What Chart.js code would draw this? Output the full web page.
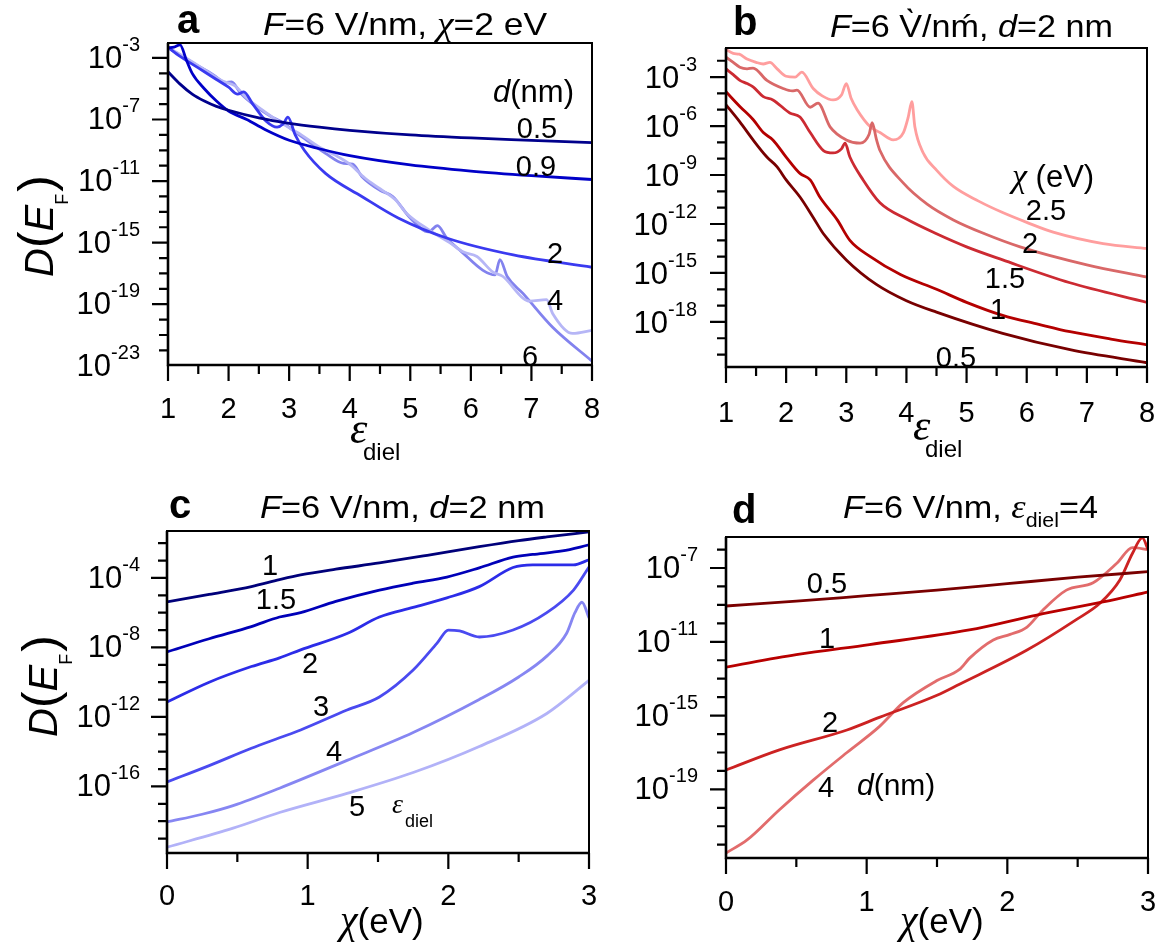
<!DOCTYPE html>
<html>
<head>
<meta charset="utf-8">
<script src="https://cdn.jsdelivr.net/npm/chart.js@4.4.1/dist/chart.umd.min.js"></script>
<style>
  html, body { margin: 0; padding: 0; background: #fff; }
  #wrap { position: relative; width: 1155px; height: 947px; overflow: hidden; }
  canvas { position: absolute; }
</style>
</head>
<body>
<div id="wrap">
  <canvas id="panelA"></canvas>
  <canvas id="panelB"></canvas>
  <canvas id="panelC"></canvas>
  <canvas id="panelD"></canvas>
</div>
<script>
// Values are [x, log10 D(E_F)]

// panel a: x = eps_diel, one curve per thickness d (nm)
const aD05 = [[1,-3.9],[1.2,-4.7],[1.4,-5.35],[1.6,-5.8],[1.8,-6.15],[2,-6.4],[2.5,-6.9],[3,-7.25],[3.5,-7.5],[4,-7.7],[5,-8.0],[6,-8.2],[7,-8.35],[8,-8.5]];
const aD09 = [[1,-2.35],[1.1,-2.3],[1.2,-2.15],[1.3,-3.1],[1.4,-4.0],[1.6,-5.0],[1.8,-5.8],[2,-6.45],[2.3,-7.0],[2.6,-7.65],[3,-8.35],[3.5,-8.9],[4,-9.35],[5,-9.95],[6,-10.35],[7,-10.65],[8,-10.9]];
const aD2 = [[1,-2.3],[1.2,-2.9],[1.4,-3.4],[1.6,-3.9],[1.8,-4.4],[2.0,-4.9],[2.15,-5.35],[2.25,-5.2],[2.4,-6.0],[2.63,-7.15],[2.8,-7.5],[2.9,-7.3],[2.98,-6.85],[3.1,-8.0],[3.25,-9.0],[3.6,-10.5],[4.2,-12.0],[4.8,-13.4],[5.6,-14.7],[6.7,-15.8],[8,-16.6]];
const aD4 = [[1,-2.3],[1.5,-3.5],[1.9,-4.5],[2.1,-4.8],[2.3,-5.6],[2.6,-6.5],[2.9,-7.3],[3.2,-8.0],[3.5,-8.8],[3.75,-9.3],[4.0,-9.9],[4.25,-10.8],[4.5,-11.5],[4.75,-12.2],[4.94,-13.1],[5.32,-14.2],[5.65,-15.0],[5.87,-15.6],[6.1,-15.9],[6.36,-16.9],[6.53,-17.2],[6.86,-18.6],[6.97,-18.8],[7.25,-18.7],[7.35,-19.6],[7.68,-20.9],[8,-20.7]];
const aD6 = [[1,-2.35],[1.4,-3.3],[1.75,-4.1],[1.95,-4.6],[2.05,-4.55],[2.2,-5.3],[2.5,-6.3],[2.7,-6.8],[2.85,-7.1],[3.2,-8.1],[3.6,-9.2],[3.9,-9.85],[4.05,-9.9],[4.2,-10.7],[4.5,-11.6],[4.71,-12.0],[5.0,-13.4],[5.3,-14.3],[5.45,-13.9],[5.6,-14.7],[5.85,-15.6],[6.2,-16.8],[6.4,-17.1],[6.48,-16.1],[6.6,-17.2],[6.86,-18.3],[7.35,-20.5],[8,-22.7]];

// panel b: x = eps_diel, one curve per electron affinity chi (eV)
const bC05 = [[1,-4.7],[1.23,-5.75],[1.45,-6.85],[1.68,-7.9],[1.85,-8.5],[2.0,-9.3],[2.23,-10.35],[2.45,-11.6],[2.62,-12.6],[3.0,-14.2],[3.5,-15.7],[4.0,-16.7],[4.5,-17.4],[5.6,-18.7],[6.72,-19.7],[8,-20.5]];
const bC1 = [[1,-3.9],[1.23,-4.8],[1.45,-5.6],[1.62,-6.4],[1.78,-6.85],[2.0,-7.9],[2.23,-8.9],[2.4,-9.3],[2.56,-10.35],[2.85,-11.75],[3.06,-13.0],[3.4,-14.0],[3.9,-15.1],[4.5,-16.0],[5.0,-16.8],[5.6,-17.6],[6.2,-18.15],[6.72,-18.6],[7.4,-19.05],[8,-19.4]];
const bC15 = [[1,-2.5],[1.12,-2.85],[1.23,-3.2],[1.35,-3.4],[1.45,-3.6],[1.62,-4.2],[1.78,-4.4],[2.06,-5.2],[2.23,-5.45],[2.4,-6.4],[2.62,-7.5],[2.78,-7.65],[2.92,-7.4],[2.98,-7.05],[3.06,-7.9],[3.28,-9.3],[3.56,-10.7],[4.0,-11.7],[4.5,-12.6],[5.0,-13.4],[5.6,-14.2],[6.72,-15.6],[8,-16.8]];
const bC2 = [[1,-1.78],[1.12,-2.1],[1.23,-2.4],[1.35,-2.5],[1.45,-2.45],[1.68,-3.2],[1.95,-3.7],[2.1,-3.85],[2.18,-3.8],[2.4,-4.85],[2.53,-4.6],[2.73,-6.05],[3.0,-6.85],[3.23,-7.05],[3.38,-6.5],[3.43,-5.8],[3.5,-6.8],[3.56,-7.5],[3.95,-9.5],[4.35,-10.8],[4.78,-11.75],[5.3,-12.6],[5.89,-13.4],[7.0,-14.5],[8,-15.25]];
const bC25 = [[1,-1.3],[1.12,-1.55],[1.22,-1.6],[1.35,-1.9],[1.5,-2.1],[1.62,-2.2],[1.73,-2.1],[1.85,-2.5],[2.0,-2.95],[2.15,-3.0],[2.26,-2.7],[2.45,-3.7],[2.6,-4.15],[2.78,-4.4],[2.92,-4.1],[3.0,-3.4],[3.08,-4.3],[3.18,-5.0],[3.4,-6.05],[3.56,-6.4],[3.78,-6.85],[3.95,-6.4],[4.03,-5.45],[4.09,-4.5],[4.14,-6.05],[4.28,-7.65],[4.5,-8.7],[4.78,-9.7],[5.2,-10.6],[5.6,-11.3],[6.0,-11.9],[6.44,-12.5],[7.27,-13.2],[8,-13.5]];

// panel c: x = chi (eV), one curve per eps_diel
const cE1 = [[0,-5.38],[0.3,-4.95],[0.6,-4.5],[0.8,-4.1],[0.95,-3.83],[1.2,-3.5],[1.51,-3.14],[1.85,-2.7],[2.22,-2.2],[2.5,-1.85],[2.7,-1.64],[3.0,-1.35]];
const cE15 = [[0,-8.26],[0.3,-7.5],[0.6,-6.8],[0.8,-6.25],[0.95,-6.0],[1.2,-5.35],[1.51,-4.7],[1.75,-4.3],[1.99,-3.95],[2.22,-3.42],[2.46,-2.8],[2.6,-2.65],[2.81,-2.45],[3.0,-2.1]];
const cE2 = [[0,-11.14],[0.3,-10.0],[0.6,-9.1],[0.8,-8.6],[0.95,-8.14],[1.28,-7.2],[1.51,-6.25],[1.75,-5.7],[1.99,-5.15],[2.22,-4.5],[2.46,-3.4],[2.6,-3.25],[2.89,-3.25],[3.0,-2.96]];
const cE3 = [[0,-15.74],[0.3,-14.8],[0.6,-13.8],[0.8,-13.2],[0.95,-12.75],[1.28,-11.6],[1.51,-10.85],[1.75,-9.3],[1.92,-7.75],[2.0,-7.0],[2.08,-7.05],[2.22,-7.4],[2.46,-7.0],[2.7,-6.0],[2.89,-4.7],[3.0,-3.37]];
const cE4 = [[0,-18.04],[0.25,-17.6],[0.47,-17.1],[0.8,-16.1],[1.28,-14.5],[1.75,-12.9],[2.22,-11.0],[2.5,-9.7],[2.7,-8.5],[2.84,-7.2],[2.9,-6.0],[2.95,-5.4],[3.0,-6.3]];
const cE5 = [[0,-19.5],[0.47,-18.4],[0.8,-17.5],[1.28,-16.4],[1.75,-15.2],[2.22,-13.7],[2.7,-11.8],[3.0,-9.9]];

// panel d: x = chi (eV), one curve per thickness d (nm)
const dD05 = [[0,-9.06],[0.5,-8.8],[1,-8.5],[1.5,-8.2],[2,-7.85],[2.5,-7.5],[3,-7.2]];
const dD1 = [[0,-12.37],[0.5,-11.7],[1.02,-11.15],[1.73,-10.36],[2.21,-9.55],[2.68,-8.84],[3,-8.3]];
const dD2 = [[0,-17.95],[0.38,-16.86],[0.86,-15.78],[1.09,-15.1],[1.5,-13.9],[1.66,-13.3],[2.14,-11.45],[2.49,-9.8],[2.66,-8.9],[2.8,-7.65],[2.89,-6.2],[2.96,-5.37],[3,-6.0]];
const dD4 = [[0,-22.45],[0.15,-21.74],[0.38,-20.1],[0.62,-18.5],[0.86,-17.0],[1.09,-15.6],[1.26,-14.3],[1.5,-13.1],[1.66,-12.5],[1.73,-11.9],[1.9,-10.9],[2.02,-10.6],[2.14,-10.2],[2.25,-9.3],[2.42,-8.2],[2.61,-7.8],[2.78,-6.73],[2.89,-5.9],[3,-6.0]];

// tick values (x in axis units, y as decade exponents)
const epsTicks = [1, 2, 3, 4, 5, 6, 7, 8];
const epsMinor = [1.5, 2.5, 3.5, 4.5, 5.5, 6.5, 7.5];
const chiTicks = [0, 1, 2, 3];
const chiMinor = [0.5, 1.5, 2.5];
const aYTicks = [-3, -7, -11, -15, -19, -23];
const bYTicks = [-3, -6, -9, -12, -15, -18];
const cYTicks = [-4, -8, -12, -16];
const dYTicks = [-7, -11, -15, -19];

const SANS = '"Liberation Sans", Arial, Helvetica, sans-serif';
const SERIF = '"Liberation Serif", "Times New Roman", serif';
const sans = s => s + 'px ' + SANS;
const isans = s => 'italic ' + s + 'px ' + SANS;
const iserif = s => 'italic ' + s + 'px ' + SERIF;
const bold = s => 'bold ' + s + 'px ' + SANS;

// draws a run of text pieces (fonts / sub / superscripts) starting at x,y
function rich(ctx, x, y, parts, opt = {}) {
    ctx.save();
    ctx.translate(x, y);
    if (opt.rot) ctx.rotate(opt.rot);
    let w = 0;
    parts.forEach(p => { ctx.font = p.f; w += (p.dx || 0) + ctx.measureText(p.t).width; });
    const sx = opt.width ? opt.width / w : 1;
    const start = opt.align === 'center' ? -w * sx / 2 : opt.align === 'right' ? -w * sx : 0;
    ctx.translate(start, 0);
    ctx.scale(sx, 1);
    ctx.fillStyle = '#000';
    ctx.textAlign = 'left';
    ctx.textBaseline = 'alphabetic';
    let cx = 0;
    parts.forEach(p => {
        ctx.font = p.f;
        cx += p.dx || 0;
        ctx.fillText(p.t, cx, p.dy || 0);
        cx += ctx.measureText(p.t).width;
    });
    ctx.restore();
}

const num = (x, y, t) => ({ x: x, y: y, align: 'center', parts: [{ t: t, f: sans(29) }] });
const yTitle = (x, y) => ({
    x: x, y: y, rot: -Math.PI / 2,
    parts: [{ t: 'D', f: isans(40) }, { t: '(', f: sans(50) }, { t: 'E', f: isans(40) },
            { t: 'F', f: sans(18), dy: 15 }, { t: ')', f: sans(50), dx: 2 }]
});
const title = (x, y, w, parts) => ({ x: x, y: y, width: w, parts: parts });

const panels = [
    {
        id: 'panelA', ox: 0, oy: 0, w: 615, h: 470,
        box: [168, 43, 592, 365], xMin: 1, xMax: 8, yMin: -22.95, yMax: -2.03,
        xTicks: epsTicks, xMinor: epsMinor, yTicks: aYTicks,
        yLabRight: 140, yLabDy: 10, xLabBase: 418,
        series: [
            { data: aD05, color: '#00008c' },
            { data: aD09, color: '#0000c8' },
            { data: aD2, color: '#3a3af0' },
            { data: aD4, color: '#b6b6f6' },
            { data: aD6, color: '#8282ee' }
        ],
        texts: [
            { x: 177, y: 33, parts: [{ t: 'a', f: bold(40) }] },
            title(263, 35, 284, [{ t: 'F', f: isans(32) }, { t: '=6 V/nm, ', f: sans(32) }, { t: 'χ', f: iserif(34) }, { t: '=2 eV', f: sans(32) }]),
            yTitle(53, 277),
            { x: 350, y: 443, parts: [{ t: 'ε', f: iserif(44) }] },
            { x: 363, y: 460, parts: [{ t: 'diel', f: sans(24) }] },
            { x: 493, y: 102, parts: [{ t: 'd', f: isans(31) }, { t: '(nm)', f: sans(31) }] },
            num(537, 138, '0.5'), num(536, 176, '0.9'), num(555, 263, '2'), num(555, 310, '4'), num(530, 366, '6')
        ]
    },
    {
        id: 'panelB', ox: 615, oy: 0, w: 540, h: 470,
        box: [726, 48, 1147, 367], xMin: 1, xMax: 8, yMin: -20.76, yMax: -1.22,
        xTicks: epsTicks, xMinor: epsMinor, yTicks: bYTicks,
        yLabRight: 697, yLabDy: 11, xLabBase: 422,
        series: [
            { data: bC05, color: '#780000' },
            { data: bC1, color: '#b40000' },
            { data: bC15, color: '#cc2a32' },
            { data: bC2, color: '#d96868' },
            { data: bC25, color: '#ff9e9e' }
        ],
        texts: [
            { x: 733, y: 35, parts: [{ t: 'b', f: bold(40) }] },
            title(830, 37, 283, [{ t: 'F', f: isans(32) }, { t: '=6 V\u0300/nm\u0301, ', f: sans(32) }, { t: 'd', f: isans(32) }, { t: '=2 nm', f: sans(32) }]),
            { x: 913, y: 440, parts: [{ t: 'ε', f: iserif(44) }] },
            { x: 925, y: 457, parts: [{ t: 'diel', f: sans(24) }] },
            { x: 1012, y: 187, parts: [{ t: 'χ', f: iserif(34) }, { t: ' (eV)', f: sans(31) }] },
            num(1046, 220, '2.5'), num(1030, 253, '2'), num(1005, 288, '1.5'), num(998, 319, '1'), num(956, 367, '0.5')
        ]
    },
    {
        id: 'panelC', ox: 0, oy: 470, w: 615, h: 477,
        box: [167, 531, 589, 853], xMin: 0, xMax: 3, yMin: -19.83, yMax: -1.3,
        xTicks: chiTicks, xMinor: chiMinor, yTicks: cYTicks,
        yLabRight: 140, yLabDy: 10, xLabBase: 905,
        series: [
            { data: cE1, color: '#00007a' },
            { data: cE15, color: '#0000b8' },
            { data: cE2, color: '#2c2ce8' },
            { data: cE3, color: '#4a4af0' },
            { data: cE4, color: '#8686f2' },
            { data: cE5, color: '#b2b2f8' }
        ],
        texts: [
            { x: 169, y: 518, parts: [{ t: 'c', f: bold(40) }] },
            title(260, 518, 285, [{ t: 'F', f: isans(32) }, { t: '=6 V/nm, ', f: sans(32) }, { t: 'd', f: isans(32) }, { t: '=2 nm', f: sans(32) }]),
            yTitle(57, 737),
            { x: 340, y: 933, parts: [{ t: 'χ', f: iserif(40) }, { t: '(eV)', f: sans(35) }] },
            num(270, 575, '1'), num(276, 609, '1.5'), num(310, 673, '2'), num(321, 716, '3'), num(334, 761, '4'), num(357, 816, '5'),
            { x: 392, y: 813, parts: [{ t: 'ε', f: iserif(28) }] },
            { x: 405, y: 827, parts: [{ t: 'diel', f: sans(18) }] }
        ]
    },
    {
        id: 'panelD', ox: 615, oy: 470, w: 540, h: 477,
        box: [726, 537, 1148, 858], xMin: 0, xMax: 3, yMin: -22.72, yMax: -5.32,
        xTicks: chiTicks, xMinor: chiMinor, yTicks: dYTicks,
        yLabRight: 698, yLabDy: 10, xLabBase: 911,
        series: [
            { data: dD05, color: '#7a0000' },
            { data: dD1, color: '#b80000' },
            { data: dD2, color: '#cc2222' },
            { data: dD4, color: '#e26c6c' }
        ],
        texts: [
            { x: 732, y: 523, parts: [{ t: 'd', f: bold(40) }] },
            title(843, 518, 255, [{ t: 'F', f: isans(32) }, { t: '=6 V/nm, ', f: sans(32) }, { t: 'ε', f: iserif(34) }, { t: 'diel', f: sans(20), dy: 9 }, { t: '=4', f: sans(32) }]),
            { x: 900, y: 933, parts: [{ t: 'χ', f: iserif(40) }, { t: '(eV)', f: sans(35) }] },
            num(827, 593, '0.5'), num(827, 648, '1'), num(830, 732, '2'), num(826, 797, '4'),
            { x: 857, y: 795, parts: [{ t: 'd', f: isans(30) }, { t: '(nm)', f: sans(30) }] }
        ]
    }
];

function decor(p) {
    return {
        id: 'decor' + p.id,
        afterDraw(chart) {
            const ctx = chart.ctx, xs = chart.scales.x, ys = chart.scales.y, a = chart.chartArea;
            const yPix = e => ys.getPixelForValue(Math.pow(10, e));
            ctx.save();
            ctx.strokeStyle = '#000';
            ctx.lineCap = 'butt';
            // frame
            ctx.lineWidth = 2;
            ctx.strokeRect(a.left, a.top, a.right - a.left, a.bottom - a.top);
            ctx.lineWidth = 2.6;
            ctx.beginPath();
            ctx.moveTo(a.left, a.top);
            ctx.lineTo(a.left, a.bottom);
            ctx.lineTo(a.right, a.bottom);
            ctx.stroke();
            // ticks
            ctx.lineWidth = 2.2;
            ctx.beginPath();
            p.xTicks.forEach(v => { const x = xs.getPixelForValue(v); ctx.moveTo(x, a.bottom); ctx.lineTo(x, a.bottom + 16); });
            p.xMinor.forEach(v => { const x = xs.getPixelForValue(v); ctx.moveTo(x, a.bottom); ctx.lineTo(x, a.bottom + 9); });
            for (let e = Math.ceil(p.yMin); e <= Math.floor(p.yMax); e++) {
                const y = yPix(e);
                if (y > a.bottom - 2 || y < a.top + 2) continue;
                const len = p.yTicks.includes(e) ? 16 : 9;
                ctx.moveTo(a.left - len, y);
                ctx.lineTo(a.left, y);
            }
            ctx.stroke();
            // everything below in page coordinates
            ctx.translate(-p.ox, -p.oy);
            p.xTicks.forEach(v => {
                rich(ctx, xs.getPixelForValue(v) + p.ox, p.xLabBase, [{ t: String(v), f: sans(29) }], { align: 'center' });
            });
            p.yTicks.forEach(e => {
                const y = yPix(e) + p.oy;
                rich(ctx, p.yLabRight, y + p.yLabDy, [{ t: '10', f: sans(31) }, { t: String(e), f: sans(20), dy: -17 }], { align: 'right' });
            });
            p.texts.forEach(t => rich(ctx, t.x, t.y, t.parts, t));
            ctx.restore();
        }
    };
}

panels.forEach(p => {
    const canvas = document.getElementById(p.id);
    canvas.width = p.w;
    canvas.height = p.h;
    canvas.style.left = p.ox + 'px';
    canvas.style.top = p.oy + 'px';
    const [L, T, R, B] = p.box;
    new Chart(canvas.getContext('2d'), {
        type: 'line',
        data: {
            datasets: p.series.map(s => ({
                data: s.data.map(([x, e]) => ({ x: x, y: Math.pow(10, e) })),
                borderColor: s.color,
                borderWidth: 2.8,
                pointRadius: 0,
                fill: false,
                cubicInterpolationMode: 'monotone'
            }))
        },
        options: {
            responsive: false,
            animation: false,
            devicePixelRatio: 1,
            layout: { padding: { left: L - p.ox, top: T - p.oy, right: p.ox + p.w - R, bottom: p.oy + p.h - B } },
            plugins: { legend: { display: false }, tooltip: { enabled: false } },
            events: [],
            scales: {
                x: {
                    type: 'linear', min: p.xMin, max: p.xMax,
                    ticks: { display: false }, grid: { display: false }, border: { display: false },
                    afterFit: s => { s.height = 0; }
                },
                y: {
                    type: 'logarithmic', min: Math.pow(10, p.yMin), max: Math.pow(10, p.yMax),
                    ticks: { display: false }, grid: { display: false }, border: { display: false },
                    afterFit: s => { s.width = 0; }
                }
            }
        },
        plugins: [decor(p)]
    });
});
</script>
</body>
</html>
